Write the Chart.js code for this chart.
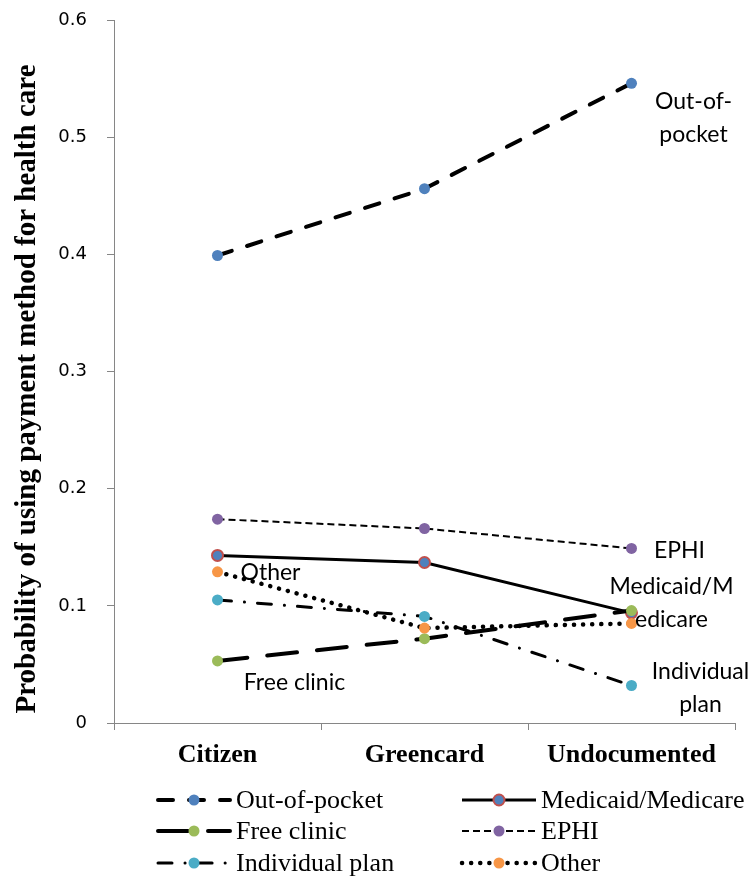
<!DOCTYPE html>
<html><head><meta charset="utf-8">
<script src="https://cdn.jsdelivr.net/npm/chart.js@4.4.1/dist/chart.umd.min.js"></script>
<style>html,body{margin:0;padding:0;background:#fff;}#wrap{width:756px;height:884px;position:relative;}</style>
</head><body><div id="wrap"><canvas id="c" width="756" height="884"></canvas></div>
<script>
const categories = ['Citizen', 'Greencard', 'Undocumented'];
const seriesNames = ['Out-of-pocket', 'Medicaid/Medicare', 'Free clinic', 'EPHI', 'Individual plan', 'Other'];
const outOfPocket = [0.399, 0.456, 0.546];
const medicaid = [0.143, 0.137, 0.094];
const freeClinic = [0.053, 0.072, 0.096];
const ephi = [0.174, 0.166, 0.149];
const individualPlan = [0.105, 0.091, 0.032];
const other = [0.129, 0.081, 0.085];
const yTickLabels = ['0', '0.1', '0.2', '0.3', '0.4', '0.5', '0.6'];
const yTitle = 'Probability of using payment method for health care';

const seriesValues = [outOfPocket, medicaid, freeClinic, ephi, individualPlan, other];
const styles = [
  {dash: [15, 16], w: 4, fill: '#4F81BD', edge: '#4F81BD', ew: 0, cap: 'round'},
  {dash: [], w: 3, fill: '#4F81BD', edge: '#C0504D', ew: 2, cap: 'butt'},
  {dash: [30, 20], w: 4, fill: '#9BBB59', edge: '#9BBB59', ew: 0, cap: 'round'},
  {dash: [7, 4], w: 2, fill: '#8064A2', edge: '#8064A2', ew: 0, cap: 'butt'},
  {dash: [14, 13, 0.1, 13], w: 3, fill: '#4BACC6', edge: '#4BACC6', ew: 0, cap: 'round'},
  {dash: [0.1, 9], w: 4.5, fill: '#F79646', edge: '#F79646', ew: 0, cap: 'round'}
];

// in-chart labels: series index, category index, lines, offsets
const annotations = [
  {s: 0, c: 2, lines: ['Out-of-', 'pocket'], dx: 62, dy: 18},
  {s: 3, c: 2, lines: ['EPHI'], dx: 48, dy: 2},
  {s: 1, c: 2, lines: ['Medicaid/M', 'edicare'], dx: 40, dy: -26},
  {s: 4, c: 2, lines: ['Individual', 'plan'], dx: 69, dy: -14},
  {s: 5, c: 0, lines: ['Other'], dx: 53, dy: 1},
  {s: 2, c: 0, lines: ['Free clinic'], dx: 77, dy: 22}
];

const datasets = seriesNames.map((n, i) => ({
  label: n,
  data: seriesValues[i],
  borderColor: '#000',
  borderWidth: styles[i].w,
  borderDash: styles[i].dash,
  borderCapStyle: styles[i].cap,
  pointRadius: 5.5,
  pointHoverRadius: 5.5,
  pointBackgroundColor: styles[i].fill,
  pointBorderColor: styles[i].edge,
  pointBorderWidth: styles[i].ew,
  tension: 0,
  fill: false,
  order: 5 - i
}));

const annotPlugin = {
  id: 'annot',
  afterDatasetsDraw(chart) {
    const ctx = chart.ctx, xs = chart.scales.x, ys = chart.scales.y;
    ctx.save();
    ctx.font = '23px Lato';
    ctx.fillStyle = '#000';
    ctx.textBaseline = 'middle';
    ctx.textAlign = 'center';
    annotations.forEach(a => {
      const px = xs.getPixelForValue(a.c) + a.dx;
      const py = ys.getPixelForValue(seriesValues[a.s][a.c]) + a.dy;
      a.lines.forEach((t, k) => ctx.fillText(t, px, py + k * 33));
    });
    ctx.restore();
  }
};

const titlePlugin = {
  id: 'ytitle',
  afterDraw(chart) {
    const ctx = chart.ctx;
    ctx.save();
    ctx.translate(28, 389);
    ctx.rotate(-Math.PI / 2);
    ctx.font = 'bold 29px "Liberation Serif"';
    ctx.fillStyle = '#000';
    ctx.textAlign = 'center';
    ctx.textBaseline = 'middle';
    ctx.fillText(yTitle, 0, 0);
    ctx.restore();
  }
};

const legendPlugin = {
  id: 'customLegend',
  afterDraw(chart) {
    const ctx = chart.ctx;
    const cols = [{x0: 158, x1: 230, tx: 236}, {x0: 462, x1: 536, tx: 541}];
    const rows = [800, 831, 863];
    ctx.save();
    chart.data.datasets.forEach((ds, i) => {
      const col = cols[i % 2], y = rows[Math.floor(i / 2)];
      ctx.beginPath();
      ctx.setLineDash(ds.borderDash);
      ctx.lineWidth = ds.borderWidth;
      ctx.lineCap = ds.borderCapStyle;
      ctx.strokeStyle = '#000';
      ctx.moveTo(col.x0, y); ctx.lineTo(col.x1, y);
      ctx.stroke();
      ctx.setLineDash([]);
      ctx.beginPath();
      ctx.arc((col.x0 + col.x1) / 2, y, 5.5, 0, Math.PI * 2);
      ctx.fillStyle = ds.pointBackgroundColor;
      ctx.fill();
      if (ds.pointBorderWidth > 0) {
        ctx.lineWidth = ds.pointBorderWidth;
        ctx.strokeStyle = ds.pointBorderColor;
        ctx.stroke();
      }
      ctx.fillStyle = '#000';
      ctx.font = '26px "Liberation Serif"';
      ctx.textAlign = 'left';
      ctx.textBaseline = 'middle';
      ctx.fillText(ds.label, col.tx, y + 1);
    });
    ctx.restore();
  }
};

new Chart(document.getElementById('c'), {
  type: 'line',
  data: {labels: categories, datasets},
  options: {
    responsive: false,
    animation: false,
    events: [],
    layout: {padding: {top: 20, right: 21, bottom: 111, left: 0}},
    plugins: {legend: {display: false}, tooltip: {enabled: false}},
    scales: {
      x: {
        offset: true,
        grid: {offset: true, drawOnChartArea: false, tickLength: 7, color: '#868686', lineWidth: 1},
        border: {color: '#868686', width: 1},
        ticks: {color: '#000', font: {family: '"Liberation Serif"', size: 26, weight: 'bold'}, padding: 10, maxRotation: 0},
        afterFit(s) { s.height = 50; s.paddingLeft = 0; s.paddingRight = 0; s.paddingTop = 0; s.paddingBottom = 0; }
      },
      y: {
        min: 0, max: 0.6,
        grid: {drawOnChartArea: false, tickLength: 7, color: '#868686', lineWidth: 1},
        border: {color: '#868686', width: 1},
        ticks: {stepSize: 0.1, color: '#000', font: {family: '"DejaVu Sans"', size: 18}, padding: 20,
          callback: (v, i) => yTickLabels[i]},
        afterFit(s) { s.width = 114; s.paddingTop = 0; s.paddingBottom = 0; s.paddingLeft = 0; s.paddingRight = 0; }
      }
    }
  },
  plugins: [annotPlugin, legendPlugin, titlePlugin]
});
</script></body></html>
